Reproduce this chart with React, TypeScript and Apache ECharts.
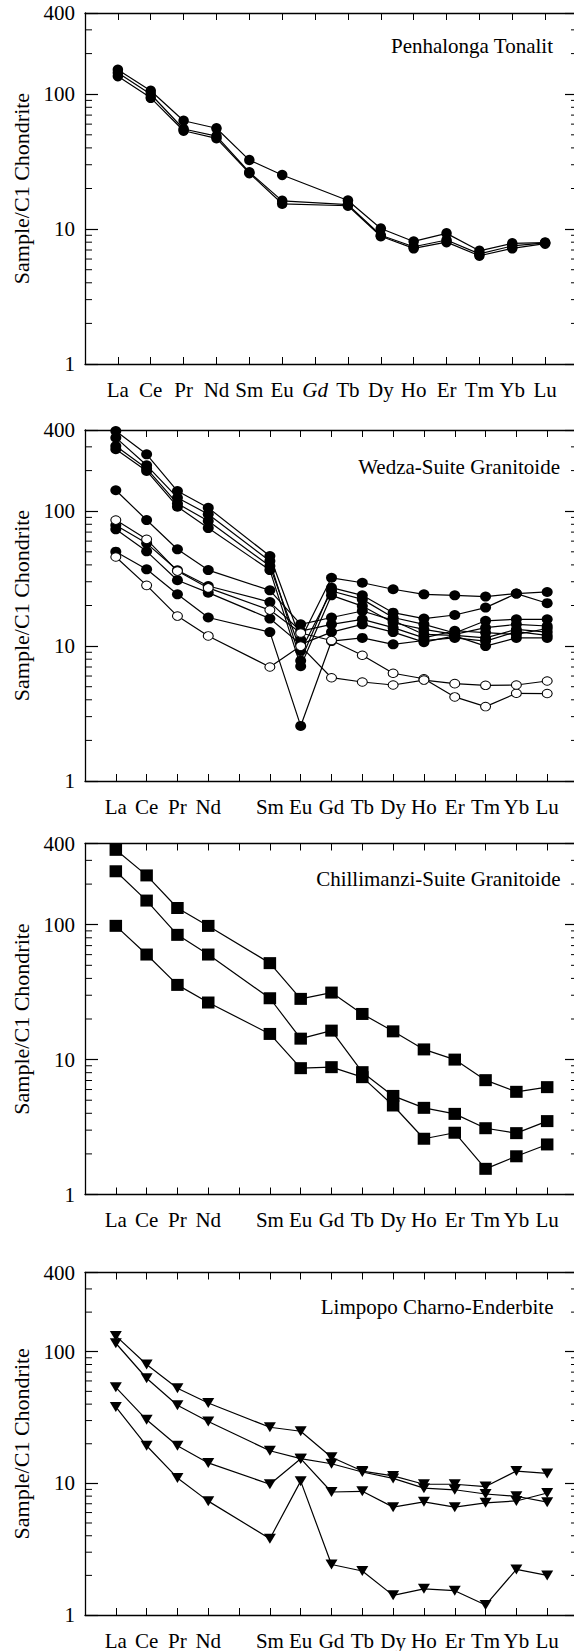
import React, { useEffect, useRef } from "react";
import * as echarts from "echarts";

const FONT = "Liberation Serif";

// ---- categories / tick labels ----
const ree14 = ["La", "Ce", "Pr", "Nd", "Sm", "Eu", "Gd", "Tb", "Dy", "Ho", "Er", "Tm", "Yb", "Lu"];
const ree15 = ["La", "Ce", "Pr", "Nd", "", "Sm", "Eu", "Gd", "Tb", "Dy", "Ho", "Er", "Tm", "Yb", "Lu"];
const italicLabelsPanel1 = ["Gd"];
const yMin = 1;
const yMax = 400;
const minorTickValues = [2, 3, 4, 5, 6, 7, 8, 9, 20, 30, 40, 50, 60, 70, 80, 90, 200, 300];
const yAxisTitle = "Sample/C1 Chondrite";

// ---- panel titles ----
const titles = [
  "Penhalonga Tonalit",
  "Wedza-Suite Granitoide",
  "Chillimanzi-Suite Granitoide",
  "Limpopo Charno-Enderbite",
];

// ---- Penhalonga Tonalit (ree14 order, Gd not analysed) ----
const penA = [152, 106, 63.6, 55.9, 32.5, 25.2, null, 16.3, 10.1, 8.1, 9.3, 6.9, 7.85, 7.95];
const penB = [144, 100, 55.2, 48.9, 26.4, 16.2, null, 15.2, 9.0, 7.4, 8.3, 6.55, 7.5, 7.9];
const penC = [136, 94, 53.6, 47.1, 26.0, 15.4, null, 14.9, 8.85, 7.2, 8.0, 6.35, 7.2, 7.8];

// ---- Wedza-Suite (ree15 order, Pm blank) ----
const wedF1 = [393, 264, 141, 106, null, 46.5, 11.2, 32.1, 29.5, 26.4, 24.2, 23.8, 23.3, 24.5, 25.2];
const wedF2 = [351, 219, 126, 95, null, 42.7, 7.8, 27.1, 23.8, 17.7, 16.0, 17.0, 19.3, 24.5, 20.8];
const wedF3 = [304, 207, 114, 84.5, null, 39.2, 9.2, 25.6, 22.2, 16.3, 14.5, 12.5, 15.4, 15.8, 15.8];
const wedF4 = [288, 199, 108, 75, null, 36.6, 7.1, 23.8, 19.8, 14.9, 13.3, 12.2, 13.7, 14.5, 14.1];
const wedF5 = [143, 86, 52.2, 36.6, null, 25.9, 14.5, 16.3, 18.2, 15.5, 12.2, 12.0, 11.5, 13.3, 12.7];
const wedF6 = [78.6, 57.8, 36.5, 27.9, null, 21.2, 12.9, 14.5, 15.8, 13.7, 11.5, 13.0, 12.6, 12.2, 13.5];
const wedF7 = [73.4, 50.4, 30.8, 24.9, null, 16.0, 10.3, 12.7, 14.5, 12.7, 10.7, 11.9, 10.0, 11.5, 11.5];
const wedF8 = [50.1, 37.1, 24.2, 16.3, null, 12.7, 2.56, 10.9, 11.5, 10.3, 11.0, 11.5, 10.9, 12.8, 12.0];
const wedO1 = [86, 61.9, 36, 27, null, 18.5, 12.5, 11, 8.55, 6.29, 5.73, 4.2, 3.56, 4.47, 4.45];
const wedO2 = [45.8, 28.2, 16.7, 11.9, null, 7.0, 10.0, 5.83, 5.42, 5.15, 5.6, 5.27, 5.12, 5.15, 5.51];

// ---- Chillimanzi-Suite ----
const chiA = [359, 232, 133, 98, null, 51.9, 28.2, 31.4, 21.8, 16.2, 11.9, 10.0, 7.04, 5.77, 6.25];
const chiB = [249, 151, 84.1, 60.1, null, 28.5, 14.3, 16.4, 8.07, 5.38, 4.39, 3.96, 3.1, 2.85, 3.5];
const chiC = [98.1, 60.1, 35.8, 26.5, null, 15.5, 8.64, 8.79, 7.41, 4.57, 2.59, 2.87, 1.55, 1.92, 2.35];

// ---- Limpopo Charno-Enderbite ----
const limA = [132, 80, 52.8, 40.8, null, 26.7, 24.9, 15.8, 12.4, 11.4, 9.85, 9.85, 9.46, 12.4, 11.9];
const limB = [116, 62.9, 39.2, 29.5, null, 17.7, 15.4, 14.1, 12.2, 10.9, 9.2, 8.94, 8.3, 7.98, 7.2];
const limC = [53.7, 30.4, 19.3, 14.3, null, 9.85, 15.4, 8.6, 8.7, 6.6, 7.24, 6.6, 7.12, 7.35, 8.45];
const limD = [38.1, 19.3, 11.0, 7.33, null, 3.8, 10.4, 2.42, 2.16, 1.41, 1.58, 1.53, 1.19, 2.22, 2.0];

type Marker = { symbol: string; size: number | number[]; open?: boolean; rotate?: number };

const panels = [
  {
    labels: ree14,
    italic: italicLabelsPanel1,
    series: [penA, penB, penC].map((d) => ({ d, m: { symbol: "circle", size: [10.5, 10.5] } as Marker })),
  },
  {
    labels: ree15,
    italic: [] as string[],
    series: [
      ...[wedF1, wedF2, wedF3, wedF4, wedF5, wedF6, wedF7, wedF8].map((d) => ({
        d,
        m: { symbol: "circle", size: [11, 10] } as Marker,
      })),
      ...[wedO1, wedO2].map((d) => ({ d, m: { symbol: "circle", size: [10, 8.5], open: true } as Marker })),
    ],
  },
  {
    labels: ree15,
    italic: [] as string[],
    series: [chiA, chiB, chiC].map((d) => ({ d, m: { symbol: "rect", size: [12.5, 12] } as Marker })),
  },
  {
    labels: ree15,
    italic: [] as string[],
    series: [limA, limB, limC, limD].map((d) => ({
      d,
      m: { symbol: "triangle", size: [12, 10], rotate: 180 } as Marker,
    })),
  },
];

const GRID_LEFT = 85;
const GRID_WIDTH = 493;
const GRID_HEIGHT = 351;
const GRID_TOPS = [13, 430, 843.5, 1272.5];
const TITLE_RIGHT = [553, 560, 560.5, 553.5];
const TITLE_Y = [45.5, 466.5, 879, 1306.5];

function buildOption() {
  const grid: any[] = [];
  const xAxis: any[] = [];
  const yAxis: any[] = [];
  const series: any[] = [];
  const graphic: any[] = [];

  panels.forEach((p, g) => {
    const xMax = p.labels.length + 1;
    grid.push({ left: GRID_LEFT, top: GRID_TOPS[g], width: GRID_WIDTH, height: GRID_HEIGHT });
    const lineStyle = { color: "#000", width: 1.3 };
    xAxis.push({
      type: "value",
      gridIndex: g,
      min: 0,
      max: xMax,
      interval: 1,
      position: "bottom",
      axisLine: { show: true, onZero: false, lineStyle },
      axisTick: { show: true, inside: true, length: 7, lineStyle: { color: "#000", width: 1 } },
      splitLine: { show: false },
      axisLabel: {
        show: true,
        margin: 15,
        fontSize: 21,
        fontFamily: FONT,
        color: "#000",
        formatter: (v: number) => {
          const lab = p.labels[Math.round(v) - 1];
          if (!lab) return "";
          return p.italic.includes(lab) ? `{it|${lab}}` : lab;
        },
        rich: { it: { fontStyle: "italic", fontSize: 21, fontFamily: FONT, color: "#000" } },
      },
    });
    xAxis.push({
      type: "value",
      gridIndex: g,
      min: 0,
      max: xMax,
      interval: 1,
      position: "top",
      axisLine: { show: true, onZero: false, lineStyle },
      axisTick: { show: true, inside: true, length: 7, lineStyle: { color: "#000", width: 1 } },
      splitLine: { show: false },
      axisLabel: { show: false },
    });
    yAxis.push({
      type: "log",
      logBase: 10,
      gridIndex: g,
      min: yMin,
      max: yMax,
      position: "left",
      axisLine: { show: true, onZero: false, lineStyle },
      axisTick: { show: true, inside: true, length: 13, lineStyle: { color: "#000", width: 1.2 } },
      splitLine: { show: false },
      minorTick: { show: false },
      axisLabel: {
        show: true,
        margin: 10,
        fontSize: 21,
        fontFamily: FONT,
        color: "#000",
        formatter: (v: number) => String(Math.round(v)),
      },
      name: yAxisTitle,
      nameLocation: "middle",
      nameGap: 52,
      nameTextStyle: { fontSize: 22, fontFamily: FONT, color: "#000" },
    });
    yAxis.push({
      type: "log",
      logBase: 10,
      gridIndex: g,
      min: yMin,
      max: yMax,
      position: "right",
      axisLine: { show: true, onZero: false, lineStyle },
      axisTick: { show: true, inside: true, length: 13, lineStyle: { color: "#000", width: 1.2 } },
      splitLine: { show: false },
      axisLabel: { show: false },
    });

    // minor log ticks on both vertical axes
    series.push({
      type: "custom",
      xAxisIndex: 2 * g,
      yAxisIndex: 2 * g,
      silent: true,
      data: minorTickValues.map((v) => [0, v]),
      renderItem: (_params: any, api: any) => {
        const v = api.value(1);
        const l = api.coord([0, v]);
        const r = api.coord([xMax, v]);
        const st = { stroke: "#000", lineWidth: 1 };
        return {
          type: "group",
          children: [
            { type: "line", shape: { x1: l[0], y1: l[1], x2: l[0] + 7, y2: l[1] }, style: st },
            { type: "line", shape: { x1: r[0] - 7, y1: r[1], x2: r[0], y2: r[1] }, style: st },
          ],
        };
      },
    });

    p.series.forEach((s) => {
      const data = s.d
        .map((v, i) => (v == null ? null : [i + 1, v]))
        .filter((x) => x !== null);
      series.push({
        type: "line",
        xAxisIndex: 2 * g,
        yAxisIndex: 2 * g,
        data,
        symbol: s.m.symbol,
        symbolSize: s.m.size,
        symbolRotate: s.m.rotate || 0,
        showSymbol: true,
        showAllSymbol: true,
        lineStyle: { color: "#000", width: 1.2 },
        itemStyle: s.m.open
          ? { color: "#fff", borderColor: "#000", borderWidth: 1 }
          : { color: "#000", borderColor: "#000", borderWidth: 0 },
        emphasis: { disabled: true },
        z: s.m.open ? 3 : 2,
      });
    });

    graphic.push({
      type: "text",
      x: TITLE_RIGHT[g],
      y: TITLE_Y[g],
      style: {
        text: titles[g],
        fontSize: 21,
        fontFamily: FONT,
        fill: "#000",
        align: "right",
        verticalAlign: "middle",
      },
    });
  });

  return {
    animation: false,
    backgroundColor: "#fff",
    textStyle: { fontFamily: FONT },
    grid,
    xAxis,
    yAxis,
    series,
    graphic,
  };
}

export default function App() {
  const ref = useRef<HTMLDivElement>(null);
  useEffect(() => {
    if (!ref.current) return;
    const chart = echarts.init(ref.current, undefined, { renderer: "svg" });
    chart.setOption(buildOption() as any);
    return () => chart.dispose();
  }, []);
  return (
    <div
      style={{
        position: "fixed",
        left: 0,
        top: 0,
        width: 574,
        height: 1651,
        overflow: "hidden",
        background: "#fff",
      }}
    >
      <div ref={ref} style={{ width: 600, height: 1651 }} />
    </div>
  );
}
